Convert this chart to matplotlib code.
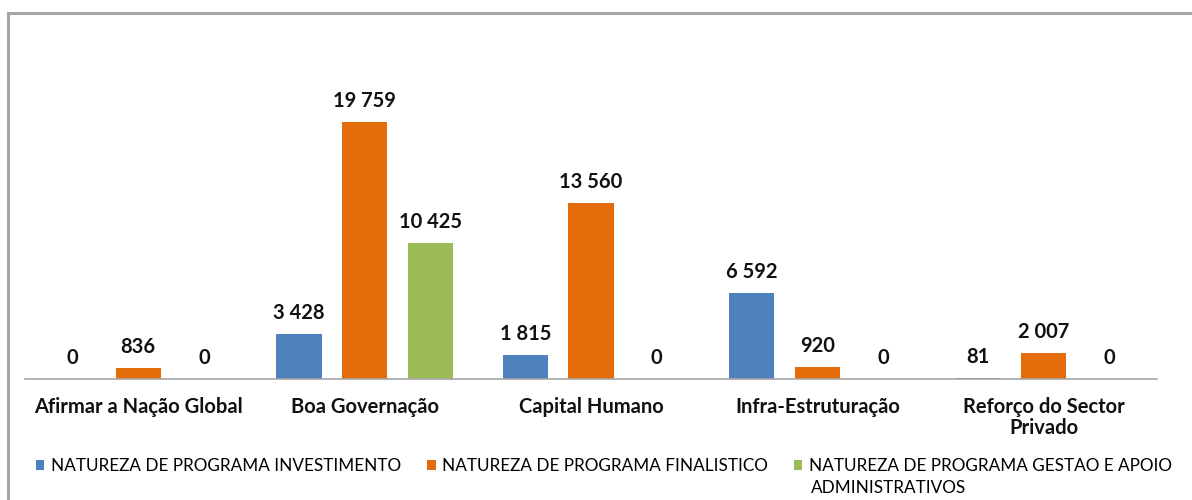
import matplotlib
matplotlib.use('Agg')
import matplotlib.pyplot as plt
import matplotlib.patches as mpatches
import numpy as np

# ─── 데이터 ─────────────────────────────────────────────
categories = ['Afirmar a Nação Global', 'Boa Governação', 'Capital Humano',
              'Infra-Estruturação', 'Reforço do Sector\nPrivado']
investimento = [0, 3428, 1815, 6592, 81]
finalistico = [836, 19759, 13560, 920, 2007]
gestao = [0, 10425, 0, 0, 0]
series_labels = ['NATUREZA DE PROGRAMA INVESTIMENTO',
                 'NATUREZA DE PROGRAMA FINALISTICO',
                 'NATUREZA DE PROGRAMA GESTAO E APOIO']
label_wrap = 'ADMINISTRATIVOS'
colors = ['#4F81BD', '#E46C0A', '#9BBB59']

plt.rcParams['font.family'] = ['Lato', 'DejaVu Sans']

fig = plt.figure(figsize=(11.92, 5.0), dpi=100)
W, H = 1192, 500
# 외곽 테두리 (오른쪽/아래는 잘림)
fig.patches.append(mpatches.Rectangle((8 / W, -0.1), 1.2, (500 - 13) / H + 0.1,
                                      transform=fig.transFigure, fill=False,
                                      edgecolor='#A6A6A6', lw=2.2))

ax = fig.add_axes([25 / W, (500 - 379) / H, (1157 - 25) / W, (379 - 54) / H])
x = np.arange(len(categories))
offset = 0.29
width = 0.2
for i, (vals, col) in enumerate(zip([investimento, finalistico, gestao], colors)):
    xs = x + (i - 1) * offset
    ax.bar(xs, vals, width=width, color=col, label=series_labels[i])
    for xv, v in zip(xs, vals):
        ax.annotate(f'{v:,}'.replace(',', ' '), (xv, v), xytext=(0, 8),
                    textcoords='offset points', ha='center', va='bottom',
                    fontsize=14.5, fontweight='bold', color='#111111')

ax.set_xlim(-0.5, len(categories) - 0.5)
ax.set_ylim(0, 25000)
ax.set_yticks([])
ax.set_xticks(x)
ax.set_xticklabels(categories, fontsize=14.5, fontweight='bold', color='#111111',
                   linespacing=1.05)
ax.tick_params(axis='x', length=0, pad=13)
for s in ['top', 'right', 'left']:
    ax.spines[s].set_visible(False)
ax.spines['bottom'].set_color('#A6A6A6')
ax.spines['bottom'].set_linewidth(1.2)

leg = fig.legend(loc='center left', bbox_to_anchor=(29 / W, 1 - 466 / H), ncol=3,
                 frameon=False, fontsize=12.3, handlelength=0.5, handleheight=0.5,
                 handletextpad=0.4, columnspacing=1.5, borderaxespad=0)

# 세번째 범례 텍스트 두번째 줄
fig.canvas.draw()
bb = leg.get_texts()[2].get_window_extent()
fig.text(bb.x0 / W + 2 / W, 1 - 488 / H, label_wrap, fontsize=12.3,
         ha='left', va='center')

fig.savefig('out.png', dpi=100)
